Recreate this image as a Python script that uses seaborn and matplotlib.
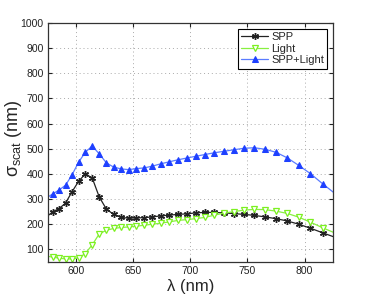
import numpy as np
import pandas as pd
import matplotlib
matplotlib.use("Agg")
import matplotlib.pyplot as plt
import seaborn as sns

wavelength = [574.1, 579.4, 584.9, 590.5, 596.2, 601.9, 607.8, 613.9, 620.0, 626.3,
              632.7, 639.2, 645.8, 652.6, 659.6, 666.7, 673.9, 681.3, 688.9, 696.6,
              704.5, 712.6, 720.9, 729.4, 738.1, 747.0, 756.1, 765.4, 775.0, 784.8,
              794.9, 805.2, 815.8, 826.7]
spp = [230, 250, 262, 284, 329, 370, 400, 384, 309, 260,
       239, 227, 224, 225, 226, 229, 233, 236, 239, 241,
       245, 247, 247, 245, 242, 239, 235, 229, 222, 213,
       200, 184, 166, 148]
light = [73, 69, 65, 62, 62, 66, 83, 118, 161, 176,
         183, 187, 189, 192, 196, 200, 204, 209, 215, 218,
         222, 227, 236, 244, 250, 256, 259, 258, 252, 243,
         228, 208, 186, 165]
spp_light = [305, 321, 336, 355, 396, 446, 486, 511, 480, 444,
             427, 420, 417, 421, 424, 431, 440, 448, 456, 463,
             470, 477, 484, 490, 496, 502, 504, 498, 486, 464,
             434, 401, 361, 322]
series_names = ["SPP", "Light", "SPP+Light"]
x_ticks = [600, 650, 700, 750, 800]
y_ticks = [100, 200, 300, 400, 500, 600, 700, 800, 900, 1000]

sns.set_style("ticks")
plt.rcParams["font.family"] = ["Liberation Sans", "DejaVu Sans"]
plt.rcParams["mathtext.fontset"] = "custom"
plt.rcParams["mathtext.rm"] = "Liberation Sans"
plt.rcParams["mathtext.it"] = "Liberation Sans"
plt.rcParams["mathtext.bf"] = "Liberation Sans:bold"

fig = plt.figure(figsize=(3.68, 2.99), dpi=100)
ax = fig.add_axes([0.130, 0.124, 0.775, 0.799])

df = pd.DataFrame({"wl": wavelength, "SPP": spp, "Light": light, "SPP+Light": spp_light})
inner = slice(1, len(wavelength) - 1)

sns.lineplot(data=df, x="wl", y="SPP", ax=ax, color="#222222", lw=0.9,
             marker=(6, 2, 0), markersize=5, markeredgewidth=1.0,
             markeredgecolor="#222222", markevery=inner, label=series_names[0])
sns.lineplot(data=df, x="wl", y="Light", ax=ax, color="#88f040", lw=0.9,
             marker="v", markersize=5, markerfacecolor="white",
             markeredgecolor="#7cf020", markeredgewidth=0.9, markevery=inner,
             label=series_names[1])
sns.lineplot(data=df, x="wl", y="SPP+Light", ax=ax, color="#5a7cff", lw=0.9,
             marker="^", markersize=5, markerfacecolor="#1e40ff",
             markeredgecolor="#1e40ff", markevery=inner, label=series_names[2])

ax.set_xlim(575, 825)
ax.set_ylim(50, 1000)
ax.set_xticks(x_ticks)
ax.set_yticks(y_ticks)
ax.tick_params(direction="in", top=True, right=True, length=3, width=0.8,
               labelsize=7.5, pad=3, colors="#222222")
ax.grid(True, linestyle=(0, (1, 3)), color="#aaaaaa", lw=0.7)
for s in ax.spines.values():
    s.set_linewidth(0.9)
    s.set_color("#333333")

ax.set_xlabel("λ (nm)", fontsize=12, labelpad=2)
ax.set_ylabel(r"$\sigma_{\mathrm{scat}}$ (nm)", fontsize=13)
ax.yaxis.set_label_coords(-0.085, 0.52)

leg = ax.legend(loc="upper right", fontsize=8, frameon=True, fancybox=False,
                edgecolor="black", framealpha=1, borderpad=0.3, labelspacing=0.15,
                handlelength=2.4, handletextpad=0.3, borderaxespad=0.5)
leg.get_frame().set_linewidth(0.8)

fig.savefig("out.png", dpi=100)
